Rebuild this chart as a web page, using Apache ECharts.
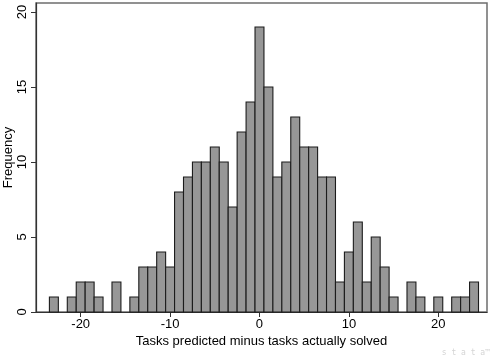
<!DOCTYPE html>
<html>
<head>
<meta charset="utf-8">
<script src="https://cdn.jsdelivr.net/npm/echarts@6/dist/echarts.min.js"></script>
<style>
html,body{margin:0;padding:0;background:#fff;}
#chart{width:498px;height:362px;}
</style>
</head>
<body>
<div id="chart"></div>
<script>
// Bin centers (difference: tasks predicted minus tasks actually solved), bin width 1
const binCenters = [-23,-22,-21,-20,-19,-18,-17,-16,-15,-14,-13,-12,-11,-10,-9,-8,-7,-6,-5,-4,-3,-2,-1,0,1,2,3,4,5,6,7,8,9,10,11,12,13,14,15,16,17,18,19,20,21,22,23,24];
const frequencies = [1,0,1,2,2,1,0,2,0,1,3,3,4,3,8,9,10,10,11,10,7,12,14,19,15,9,10,13,11,11,9,9,2,4,6,2,5,3,1,0,2,1,0,1,0,1,1,2];
const xTicks = [-20,-10,0,10,20];
const yTicks = [0,5,10,15,20];
const binWidth = 1;
const xTitle = 'Tasks predicted minus tasks actually solved';
const yTitle = 'Frequency';

const data = binCenters.map((c, i) => [c, frequencies[i]]);
const FONT = '"Liberation Sans", Arial, sans-serif';

const chart = echarts.init(document.getElementById('chart'), null, {renderer: 'canvas'});
chart.setOption({
  animation: false,
  backgroundColor: '#ffffff',
  grid: {left: 36, right: 11, top: 3, bottom: 50, show: true, borderColor: '#6e6e6e', borderWidth: 1.5, containLabel: false, outerBoundsMode: 'none'},
  xAxis: {
    type: 'value', min: -25, max: 25.45,
    name: xTitle, nameLocation: 'middle', nameGap: 23, nameMoveOverlap: false,
    nameTextStyle: {fontFamily: FONT, fontSize: 13, color: '#000'},
    axisLine: {show: true, onZero: false, lineStyle: {color: '#333', width: 1.2}},
    axisTick: {show: true, length: 5, customValues: xTicks, lineStyle: {color: '#333'}},
    axisLabel: {customValues: xTicks, fontFamily: FONT, fontSize: 13, color: '#000', margin: 6},
    splitLine: {show: false}
  },
  yAxis: {
    type: 'value', min: 0, max: 20.6,
    name: yTitle, nameLocation: 'middle', nameGap: 21, nameRotate: 90, nameMoveOverlap: false,
    nameTextStyle: {fontFamily: FONT, fontSize: 13, color: '#000'},
    axisLine: {show: true, onZero: false, lineStyle: {color: '#333', width: 1.2}},
    axisTick: {show: true, length: 5, customValues: yTicks, lineStyle: {color: '#333'}},
    axisLabel: {customValues: yTicks, rotate: 90, fontFamily: FONT, fontSize: 13, color: '#000', margin: 7},
    splitLine: {show: false}
  },
  graphic: [{
    type: 'text', right: 8, bottom: 5,
    style: {text: 's t a t a\u2122', fill: '#d4d4d4', font: '8px "DejaVu Sans Mono", monospace'}
  }],
  series: [{
    type: 'custom',
    data: data,
    encode: {x: 0, y: 1},
    renderItem: function (params, api) {
      const x = api.value(0), y = api.value(1);
      if (!y) return null;
      const p0 = api.coord([x - binWidth / 2, y]);
      const p1 = api.coord([x + binWidth / 2, 0]);
      return {
        type: 'rect',
        shape: {x: p0[0], y: p0[1], width: p1[0] - p0[0], height: p1[1] - p0[1]},
        style: {fill: '#979797', stroke: '#1c1c1c', lineWidth: 1.1}
      };
    }
  }]
});
</script>
</body>
</html>
